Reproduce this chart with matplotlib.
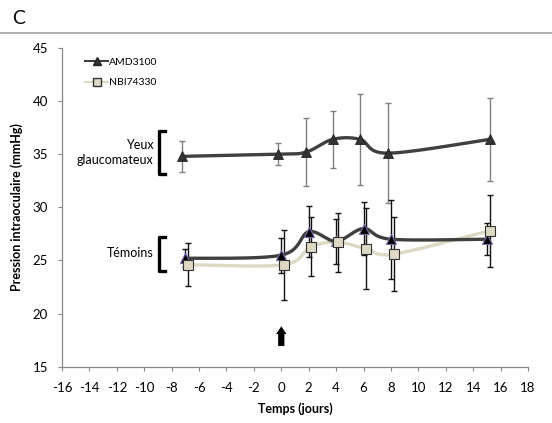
import numpy as np
import matplotlib
matplotlib.use('Agg')
from matplotlib import pyplot as plt
from matplotlib.lines import Line2D

# glaucoma eyes, AMD3100
glau_x = [-7.25, -0.25, 1.8, 3.75, 5.75, 7.75, 15.2]
glau_y = [34.8, 35.0, 35.2, 36.4, 36.4, 35.1, 36.4]
glau_err = [1.45, 1.05, 3.2, 2.7, 4.3, 4.7, 3.9]

# controls, AMD3100
amd_x = [-7, 0, 2, 4, 6, 8, 15]
amd_y = [25.2, 25.5, 27.7, 26.8, 28.0, 27.0, 27.0]
amd_err = [0.85, 1.65, 2.4, 2.1, 2.5, 3.7, 1.5]

# controls, NBI74330
nbi_x = [-6.8, 0.2, 2.15, 4.15, 6.2, 8.2, 15.2]
nbi_y = [24.6, 24.6, 26.3, 26.7, 26.1, 25.6, 27.8]
nbi_err = [2.0, 3.3, 2.8, 2.8, 3.8, 3.5, 3.4]

xticks = list(range(-16, 19, 2))
yticks = [15, 20, 25, 30, 35, 40, 45]

plt.rcParams['font.family'] = ['Lato', 'DejaVu Sans']
plt.rcParams['axes.unicode_minus'] = False

# px per unit, used only so the smoothing looks like it does on screen
SX, SY = 13.7, 10.6


def smooth(xs, ys, n=30):
    # cardinal (Catmull-Rom) spline through the points, like Excel's smoothed line
    p = np.column_stack([np.array(xs) * SX, np.array(ys) * SY])
    p = np.vstack([p[0], p, p[-1]])
    out = []
    t = np.linspace(0, 1, n)[:, None]
    for i in range(1, len(p) - 2):
        p0, p1, p2, p3 = p[i - 1], p[i], p[i + 1], p[i + 2]
        c1 = p1 + (p2 - p0) / 6
        c2 = p2 - (p3 - p1) / 6
        seg = ((1 - t) ** 3 * p1 + 3 * (1 - t) ** 2 * t * c1
               + 3 * (1 - t) * t ** 2 * c2 + t ** 3 * p2)
        out.append(seg)
    out = np.vstack(out)
    return out[:, 0] / SX, out[:, 1] / SY


fig = plt.figure(figsize=(5.52, 4.23), dpi=100)
ax = fig.add_axes([0.1123, 0.1331, 0.8442, 0.7534])

# top rule and panel letter
fig.add_artist(Line2D([0, 1], [1 - 33 / 423, 1 - 33 / 423], color='#a0a0a0', lw=1.2))
fig.text(12 / 552, 1 - 18 / 423, 'C', fontsize=14, va='center', ha='left')

# error bars
ax.errorbar(glau_x, glau_y, yerr=glau_err, fmt='none', ecolor='#808080',
            elinewidth=1, capsize=2.2, capthick=1, zorder=2)
ax.errorbar(nbi_x, nbi_y, yerr=nbi_err, fmt='none', ecolor='#111111',
            elinewidth=1, capsize=2.2, capthick=1, zorder=2)
ax.errorbar(amd_x, amd_y, yerr=amd_err, fmt='none', ecolor='#111111',
            elinewidth=1, capsize=2.2, capthick=1, zorder=2)

# smoothed lines
sx, sy = smooth(nbi_x, nbi_y)
ax.plot(sx, sy, color='#ddd9c3', lw=2.4, zorder=3, solid_capstyle='round')
sx, sy = smooth(amd_x, amd_y)
ax.plot(sx, sy, color='#404040', lw=2.4, zorder=4, solid_capstyle='round')
sx, sy = smooth(glau_x, glau_y)
ax.plot(sx, sy, color='#404040', lw=2.4, zorder=4, solid_capstyle='round')

# markers
ax.plot(glau_x, glau_y, ls='none', marker='^', ms=7.5, mfc='#333333',
        mec='#222222', mew=0.6, zorder=5)
ax.plot(amd_x, amd_y, ls='none', marker='^', ms=7.5, mfc='#000000',
        mec='#7a63a8', mew=0.8, zorder=5)
ax.plot(nbi_x, nbi_y, ls='none', marker='s', ms=7.5, mfc='#ddd9c3',
        mec='#333333', mew=0.8, zorder=6)

# group labels with brackets
ax.text(-9.3, 35.2, 'Yeux\nglaucomateux', ha='right', va='center',
        fontsize=9, linespacing=1.3)
ax.plot([-8.5, -8.9, -8.9, -8.5], [37.2, 37.2, 33.15, 33.15],
        color='black', lw=2.4, clip_on=False)
ax.text(-9.3, 25.7, 'Témoins', ha='right', va='center', fontsize=9)
ax.plot([-8.5, -8.9, -8.9, -8.5], [27.25, 27.25, 24.05, 24.05],
        color='black', lw=2.4, clip_on=False)

# treatment arrow
ax.annotate('', xy=(0, 18.8), xytext=(0, 16.95),
            arrowprops=dict(arrowstyle='simple,head_length=0.55,head_width=0.75,tail_width=0.45',
                            color='black', lw=0, shrinkA=0, shrinkB=0,
                            mutation_scale=10))

# legend
handles = [
    Line2D([], [], color='#404040', lw=1.5, marker='^', ms=6,
           mfc='#333333', mec='#222222'),
    Line2D([], [], color='#ddd9c3', lw=1.5, marker='s', ms=6,
           mfc='#ddd9c3', mec='#333333'),
]
ax.legend(handles, ['AMD3100', 'NBI74330'], loc='upper left',
          bbox_to_anchor=(0.03, 1.0), frameon=False, fontsize=7.5,
          handlelength=2.2, handletextpad=0.1, labelspacing=1.1)

ax.set_xlim(-16, 18)
ax.set_ylim(15, 45)
ax.set_xticks(xticks)
ax.set_yticks(yticks)
ax.tick_params(labelsize=9.5, length=3, color='#888888', width=0.8)
ax.tick_params(axis='x', pad=8)
ax.tick_params(axis='y', pad=7)
for s in ['top', 'right']:
    ax.spines[s].set_visible(False)
for s in ['left', 'bottom']:
    ax.spines[s].set_color('#888888')
    ax.spines[s].set_linewidth(0.9)

ax.set_xlabel('Temps (jours)', fontsize=9, fontweight='bold', labelpad=6)
ax.set_ylabel('Pression intraoculaire (mmHg)', fontsize=9, fontweight='bold', labelpad=7)

plt.savefig('out.png', dpi=100)
